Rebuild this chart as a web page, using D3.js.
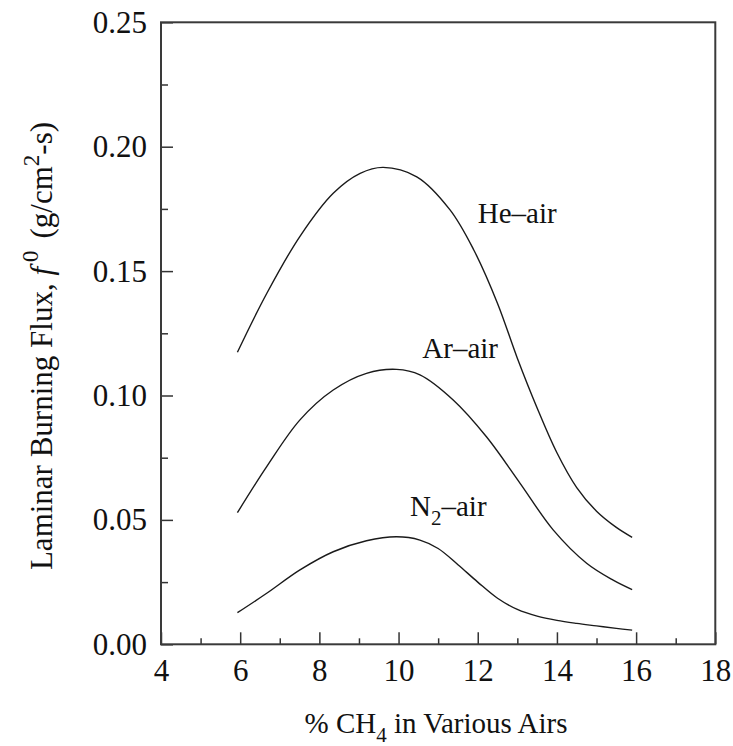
<!DOCTYPE html>
<html>
<head>
<meta charset="utf-8">
<script src="https://cdn.jsdelivr.net/npm/d3@7"></script>
<style>
  body { margin: 0; background: #fff; }
  svg text { font-family: "Liberation Serif", "Times New Roman", serif; fill: #111; }
</style>
</head>
<body>
<div id="chart"></div>
<script>
// curves (% CH4 vs burning flux)
var heX = [5.93, 6.67, 7.51, 8.35, 9.03, 9.61, 10.46, 11.3, 11.9, 12.5, 13.0, 13.5, 14.0, 14.5, 15.0, 15.5, 15.9];
var heY = [0.1174, 0.1410, 0.1640, 0.1813, 0.1893, 0.1917, 0.1879, 0.1746, 0.1585, 0.1370, 0.1150, 0.0950, 0.0770, 0.0630, 0.0535, 0.0470, 0.0430];

var arX = [5.93, 6.67, 7.51, 8.35, 9.19, 9.95, 10.54, 11.38, 12.22, 13.07, 13.91, 14.75, 15.42, 15.9];
var arY = [0.0529, 0.0714, 0.0902, 0.1022, 0.1089, 0.1105, 0.1083, 0.0982, 0.0834, 0.0647, 0.0459, 0.0326, 0.0258, 0.0220];

var n2X = [5.93, 6.67, 7.51, 8.35, 9.19, 9.95, 10.54, 11.0, 11.5, 12.0, 12.5, 13.0, 13.5, 14.0, 14.5, 15.0, 15.5, 15.9];
var n2Y = [0.0127, 0.0205, 0.0299, 0.0372, 0.0416, 0.0432, 0.0419, 0.0385, 0.0320, 0.0250, 0.0185, 0.0140, 0.0113, 0.0096, 0.0084, 0.0074, 0.0064, 0.0057];

// curve labels (data coords)
var labelNames = ["He\u2013air", "Ar\u2013air", "N2\u2013air"];
var labelX = [12.0, 10.6, 10.29];
var labelY = [0.1693, 0.115, 0.0516];

var xTicks = [4, 6, 8, 10, 12, 14, 16, 18];
var xMinor = [5, 7, 9, 11, 13, 15, 17];
var yTicks = [0, 0.05, 0.10, 0.15, 0.20, 0.25];
var yMinor = [0.025, 0.075, 0.125, 0.175, 0.225];

var margin = {top: 22.3, right: 17.7, bottom: 101.7, left: 161},
    width = 733 - margin.left - margin.right,
    height = 746 - margin.top - margin.bottom;

var svg = d3.select("#chart")
  .append("svg")
    .attr("width", 733)
    .attr("height", 746)
  .append("g")
    .attr("transform", "translate(" + margin.left + "," + margin.top + ")");

var x = d3.scaleLinear().domain([4, 18]).range([0, width]);
var y = d3.scaleLinear().domain([0, 0.25]).range([height, 0]);

// x axis, ticks pointing in
svg.append("g")
    .attr("transform", "translate(0," + height + ")")
    .call(d3.axisBottom(x).tickValues(xTicks).tickSize(-12).tickSizeOuter(0).tickPadding(15)
      .tickFormat(d3.format("d")));
svg.append("g")
    .attr("transform", "translate(0," + height + ")")
    .call(d3.axisBottom(x).tickValues(xMinor).tickSize(-6).tickSizeOuter(0).tickFormat(""));

// y axis
svg.append("g")
    .call(d3.axisLeft(y).tickValues(yTicks).tickSize(-12).tickSizeOuter(0).tickPadding(14)
      .tickFormat(d3.format(".2f")));
svg.append("g")
    .call(d3.axisLeft(y).tickValues(yMinor).tickSize(-7).tickSizeOuter(0).tickFormat(""));

svg.selectAll(".domain").remove();
svg.selectAll(".tick line").attr("stroke", "#333").attr("stroke-width", 1.5);
svg.selectAll(".tick text").attr("font-size", 31).attr("fill", "#111");

// frame
svg.append("rect")
    .attr("x", 0).attr("y", 0)
    .attr("width", width).attr("height", height)
    .attr("fill", "none")
    .attr("stroke", "#3a3a3a")
    .attr("stroke-width", 2);

// curves
var line = d3.line()
    .curve(d3.curveCatmullRom.alpha(0.5))
    .x(function(d) { return x(d[0]); })
    .y(function(d) { return y(d[1]); });

[[heX, heY], [arX, arY], [n2X, n2Y]].forEach(function(s) {
  svg.append("path")
    .datum(d3.zip(s[0], s[1]))
    .attr("fill", "none")
    .attr("stroke", "#1a1a1a")
    .attr("stroke-width", 1.4)
    .attr("d", line);
});

// curve labels
labelNames.forEach(function(name, i) {
  var t = svg.append("text")
    .attr("x", x(labelX[i]))
    .attr("y", y(labelY[i]))
    .attr("font-size", 29);
  if (name.indexOf("N2") === 0) {
    t.append("tspan").text("N");
    t.append("tspan").attr("font-size", 21).attr("dy", 9).text("2");
    t.append("tspan").attr("dy", -9).text(name.slice(2));
  } else {
    t.text(name);
  }
});

// x title
var xt = svg.append("text")
    .attr("x", 275)
    .attr("y", height + 89)
    .attr("text-anchor", "middle")
    .attr("font-size", 29);
xt.append("tspan").text("% CH");
xt.append("tspan").attr("font-size", 21).attr("dy", 9).text("4");
xt.append("tspan").attr("dy", -9).text(" in Various Airs");

// y title
var yt = svg.append("text")
    .attr("transform", "translate(" + (52 - margin.left) + "," + (346 - margin.top) + ") rotate(-90)")
    .attr("text-anchor", "middle")
    .attr("font-size", 31);
yt.append("tspan").text("Laminar Burning Flux, ");
yt.append("tspan").attr("font-style", "italic").text("f");
yt.append("tspan").attr("font-size", 23).attr("dy", -14).attr("dx", 5).text("0");
yt.append("tspan").attr("dy", 14).attr("dx", 12).text("(g/cm");
yt.append("tspan").attr("font-size", 23).attr("dy", -13).text("2");
yt.append("tspan").attr("dy", 13).text("-s)");
</script>
</body>
</html>
